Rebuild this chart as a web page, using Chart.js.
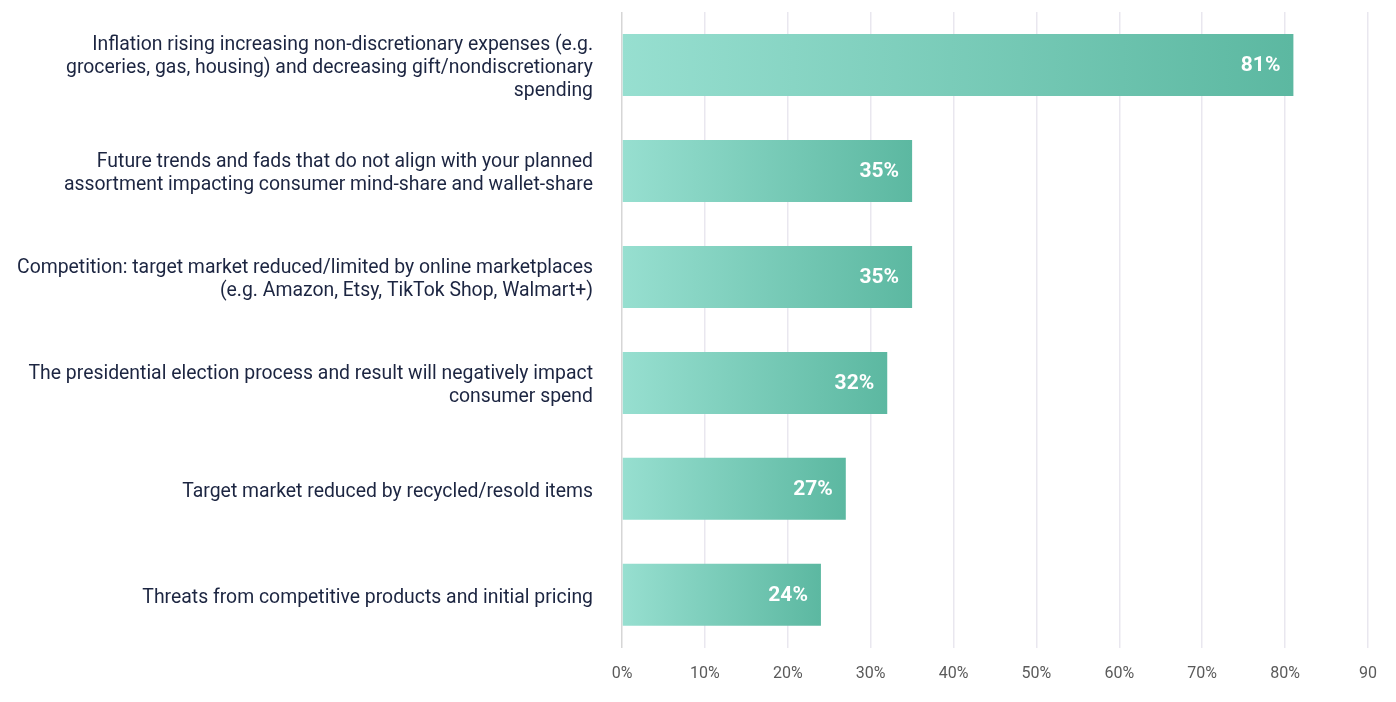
<!DOCTYPE html>
<html>
<head>
<meta charset="utf-8">
<script src="https://cdn.jsdelivr.net/npm/chart.js@4/dist/chart.umd.min.js"></script>
<style>
  html, body { margin: 0; padding: 0; background: #fff; }
  #wrap { width: 1396px; height: 702px; }
</style>
</head>
<body>
<div id="wrap"><canvas id="chart"></canvas></div>
<script>
const categories = [
  ["Inflation rising increasing non-discretionary expenses (e.g.", "groceries, gas, housing) and decreasing gift/nondiscretionary", "spending"],
  ["Future trends and fads that do not align with your planned", "assortment impacting consumer mind-share and wallet-share"],
  ["Competition: target market reduced/limited by online marketplaces", "(e.g. Amazon, Etsy, TikTok Shop, Walmart+)"],
  ["The presidential election process and result will negatively impact", "consumer spend"],
  "Target market reduced by recycled/resold items",
  "Threats from competitive products and initial pricing"
];
const values = [81, 35, 35, 32, 27, 24];
const xTicks = [0, 10, 20, 30, 40, 50, 60, 70, 80, 90];

function barGradient(ctx) {
  const chart = ctx.chart;
  const area = chart.chartArea;
  if (!area || ctx.type !== "data") return "#7acdb9";
  const x = chart.scales.x;
  const start = x.getPixelForValue(0);
  const end = x.getPixelForValue(values[ctx.dataIndex]);
  const g = chart.ctx.createLinearGradient(start, 0, end, 0);
  g.addColorStop(0, "#97dfd0");
  g.addColorStop(1, "#5cb8a1");
  return g;
}

const valueLabels = {
  id: "valueLabels",
  afterDatasetsDraw(chart) {
    const ctx = chart.ctx;
    const meta = chart.getDatasetMeta(0);
    ctx.save();
    ctx.fillStyle = "#ffffff";
    ctx.font = "bold 21px Roboto";
    ctx.textAlign = "right";
    ctx.textBaseline = "middle";
    meta.data.forEach((bar, i) => {
      ctx.fillText(values[i] + "%", bar.x - 13, bar.y + 1);
    });
    ctx.restore();
  }
};

new Chart(document.getElementById("chart"), {
  type: "bar",
  data: {
    labels: categories,
    datasets: [{
      data: values,
      backgroundColor: barGradient,
      borderWidth: 0,
      categoryPercentage: 1,
      barPercentage: 0.585
    }]
  },
  options: {
    indexAxis: "y",
    responsive: true,
    maintainAspectRatio: false,
    animation: false,
    layout: { padding: { top: 12, right: 28, bottom: 1, left: 0 } },
    plugins: { legend: { display: false }, tooltip: { enabled: false } },
    scales: {
      x: {
        min: 0,
        max: 90,
        afterBuildTicks(scale) {
          scale.ticks = xTicks.map((v) => ({ value: v }));
        },
        grid: {
          drawTicks: false,
          lineWidth: 1.5,
          color: (c) => (c.tick && c.tick.value === 0 ? "#d6d6d6" : "#e9e7ef")
        },
        border: { display: false },
        ticks: {
          padding: 17,
          color: "#5a5a5a",
          font: { family: "Roboto", size: 16 },
          callback: (v) => (v === 90 ? "90" : v + "%")
        }
      },
      y: {
        afterFit(scale) {
          scale.width = 622;
          scale.paddingTop = 0;
          scale.paddingBottom = 0;
        },
        grid: { display: false },
        border: { display: false },
        ticks: {
          padding: 21,
          labelOffset: 3,
          color: "#1c2541",
          font: { family: "Roboto", size: 19.4, lineHeight: 1.2 }
        }
      }
    }
  },
  plugins: [valueLabels]
});
</script>
</body>
</html>
